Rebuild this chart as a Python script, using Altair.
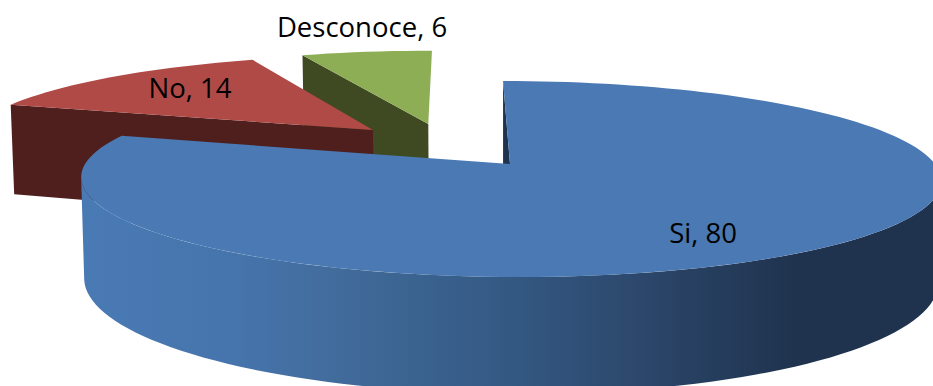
import math
import altair as alt
import pandas as pd

# Pie data
categories = ["Si", "No", "Desconoce"]
values = [80, 14, 6]

# Styling per slice
top_colors = {"Si": "#4a79b3", "No": "#b04a47", "Desconoce": "#8eae55"}
wall_colors = {"Si": "#1f334e", "No": "#4f1f1d", "Desconoce": "#3f4a22"}

# Slice explosion, in units of the pie radius on the pie's plane
explode = {"Si": (0.0, 0.0), "No": (-0.334, 0.376), "Desconoce": (-0.197, 0.446)}

# Label anchors in pixels
label_pos = {"Si": (703, 235), "No": (190, 90), "Desconoce": (362, 29)}

W, H = 933, 386
CX, CY = 510, 164
RADIUS_TOP, RADIUS_BOTTOM = 425, 422
PERSP, TILT, SKEW = 0.153, -70.6, -8
DEPTH = 99


def project(u, v, lower=False):
    """Perspective view of a point (u, v) on the pie's plane, top or bottom face."""
    d = 1 + PERSP * v
    r = RADIUS_BOTTOM if lower else RADIUS_TOP
    x = CX + (u * r + SKEW * v) / d
    y = (CY + TILT * v) / d
    if lower:
        y += DEPTH / d
    return [round(x, 2), round(y, 2)]


def rim(name, a0, a1, lower=False):
    ox, oy = explode[name]
    n = max(2, int((a1 - a0) * 180))
    pts = []
    for i in range(n + 1):
        a = 2 * math.pi * (a0 + (a1 - a0) * i / n)
        pts.append(project(ox + math.sin(a), oy + math.cos(a), lower))
    return pts


def polygon(points):
    return {
        "type": "Feature",
        "properties": {},
        "geometry": {"type": "Polygon", "coordinates": [points + [points[0]]]},
    }


projection = alt.Projection(type="identity", scale=1, translate=[0, 0])


def piece(points, fill):
    return (
        alt.Chart(alt.Data(values=[polygon(points)]))
        .mark_geoshape(fill=fill, stroke=None, strokeWidth=0)
        .project(**projection.to_dict())
    )


total = sum(values)
spans = {}
start = 0.0
for name, value in zip(categories, values):
    spans[name] = (start, start + value / total)
    start += value / total

blue_gradient = alt.LinearGradient(
    gradient="linear",
    x1=0, x2=1, y1=0, y2=0,
    stops=[
        alt.GradientStop(color="#4a7ab4", offset=0),
        alt.GradientStop(color="#4675ad", offset=0.17),
        alt.GradientStop(color="#426c9c", offset=0.29),
        alt.GradientStop(color="#345a84", offset=0.49),
        alt.GradientStop(color="#2c476b", offset=0.65),
        alt.GradientStop(color="#1f334e", offset=0.83),
        alt.GradientStop(color="#1f334e", offset=1),
    ],
)

layers = []

# Back slices first: cut face, then top face
for name in ["Desconoce", "No"]:
    a0, a1 = spans[name]
    ox, oy = explode[name]
    apex_top = project(ox, oy)
    apex_low = project(ox, oy, True)
    corner_top = rim(name, a0, a0)[0]
    corner_low = rim(name, a0, a0, True)[0]
    layers.append(piece([corner_top, apex_top, apex_low, corner_low], wall_colors[name]))
    layers.append(piece([apex_top] + rim(name, a0, a1), top_colors[name]))

# Main slice: inner face, front of the curved wall (between the rim's side extremes), top face
a0, a1 = spans["Si"]
apex_top = project(0, 0)
apex_low = project(0, 0, True)
first_top = rim("Si", 0, 0)[0]
first_low = rim("Si", 0, 0, True)[0]
turn = math.acos(-PERSP) / (2 * math.pi)
front_top = rim("Si", turn, 1 - turn)
front_low = rim("Si", turn, 1 - turn, True)
layers.append(piece([first_top, apex_top, apex_low, first_low], wall_colors["Si"]))
layers.append(piece(front_top + front_low[::-1], blue_gradient))
layers.append(piece([apex_top] + rim("Si", a0, a1), top_colors["Si"]))

labels = pd.DataFrame(
    {
        "x": [label_pos[c][0] for c in categories],
        "y": [label_pos[c][1] for c in categories],
        "label": [f"{c}, {v}" for c, v in zip(categories, values)],
    }
)
text = (
    alt.Chart(labels)
    .mark_text(font="Open Sans", fontSize=27.5, color="#000000", align="center", baseline="middle")
    .encode(
        x=alt.X("x:Q", scale=None, axis=None),
        y=alt.Y("y:Q", scale=None, axis=None),
        text="label:N",
    )
)

chart = (
    alt.layer(*layers, text)
    .properties(width=W, height=H, padding=0, autosize=alt.AutoSizeParams(type="none"))
    .configure_view(stroke=None, fill="#ffffff")
)

chart.save("out.html", embed_options={"renderer": "svg", "actions": False})
